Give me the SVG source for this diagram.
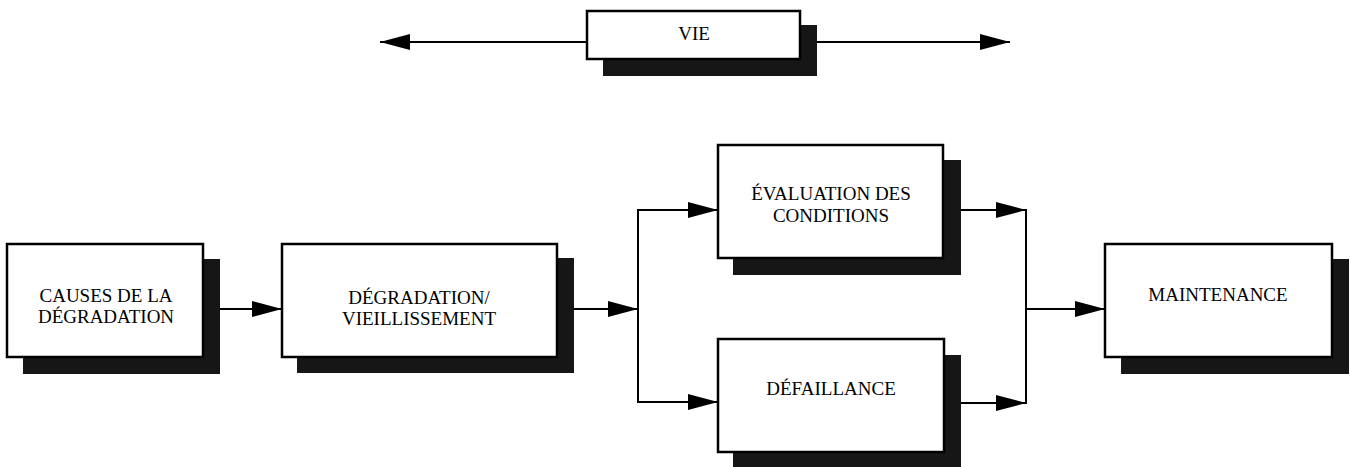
<svg xmlns="http://www.w3.org/2000/svg" width="1350" height="467" viewBox="0 0 1350 467">
<style>
.box{fill:#fff;stroke:#000;stroke-width:2.5}
.sh{fill:#161616}
.t{font-family:"Liberation Serif","Times New Roman",serif;font-size:19px;fill:#000;text-anchor:middle}
.c{fill:none;stroke:#000;stroke-width:2}
</style>
<defs>
<marker id="ah" viewBox="0 0 30 16" refX="30" refY="8" markerWidth="30" markerHeight="16" markerUnits="userSpaceOnUse" orient="auto-start-reverse">
<path d="M0,0 L30,8 L0,16 Z" fill="#000"/>
</marker>
</defs>
<rect width="1350" height="467" fill="#fff"/>
<g id="connectors">
<line class="c" x1="587" y1="42" x2="380" y2="42" marker-end="url(#ah)"/>
<line class="c" x1="817" y1="42" x2="1010" y2="42" marker-end="url(#ah)"/>
<line class="c" x1="220" y1="309" x2="282" y2="309" marker-end="url(#ah)"/>
<line class="c" x1="574" y1="309" x2="638" y2="309" marker-end="url(#ah)"/>
<line class="c" x1="638" y1="209" x2="638" y2="403"/>
<line class="c" x1="637" y1="210" x2="718" y2="210" marker-end="url(#ah)"/>
<line class="c" x1="637" y1="402" x2="718" y2="402" marker-end="url(#ah)"/>
<line class="c" x1="961" y1="210" x2="1026" y2="210" marker-end="url(#ah)"/>
<line class="c" x1="961" y1="403" x2="1026" y2="403" marker-end="url(#ah)"/>
<line class="c" x1="1026" y1="209" x2="1026" y2="404"/>
<line class="c" x1="1026" y1="309" x2="1105" y2="309" marker-end="url(#ah)"/>
</g>
<g id="vie">
<rect class="sh" x="603" y="25" width="214" height="51"/>
<rect class="box" x="587" y="11" width="213" height="48"/>
<text class="t" x="694" y="40">VIE</text>
</g>
<g id="causes">
<rect class="sh" x="23" y="259" width="197" height="115"/>
<rect class="box" x="7" y="244" width="196" height="113"/>
<text class="t" x="106" y="302">CAUSES DE LA</text>
<text class="t" x="106" y="323">DÉGRADATION</text>
</g>
<g id="degradation">
<rect class="sh" x="297" y="258" width="277" height="115"/>
<rect class="box" x="282" y="244" width="275" height="113"/>
<text class="t" x="419" y="304">DÉGRADATION/</text>
<text class="t" x="419" y="325">VIEILLISSEMENT</text>
</g>
<g id="evaluation">
<rect class="sh" x="733" y="160" width="228" height="115"/>
<rect class="box" x="718" y="145" width="225" height="113"/>
<text class="t" x="831" y="200">ÉVALUATION DES</text>
<text class="t" x="831" y="222">CONDITIONS</text>
</g>
<g id="defaillance">
<rect class="sh" x="733" y="355" width="228" height="115"/>
<rect class="box" x="718" y="339" width="226" height="113"/>
<text class="t" x="831" y="395">DÉFAILLANCE</text>
</g>
<g id="maintenance">
<rect class="sh" x="1121" y="259" width="228" height="115"/>
<rect class="box" x="1105" y="244" width="227" height="113"/>
<text class="t" x="1218" y="301">MAINTENANCE</text>
</g>
</svg>
